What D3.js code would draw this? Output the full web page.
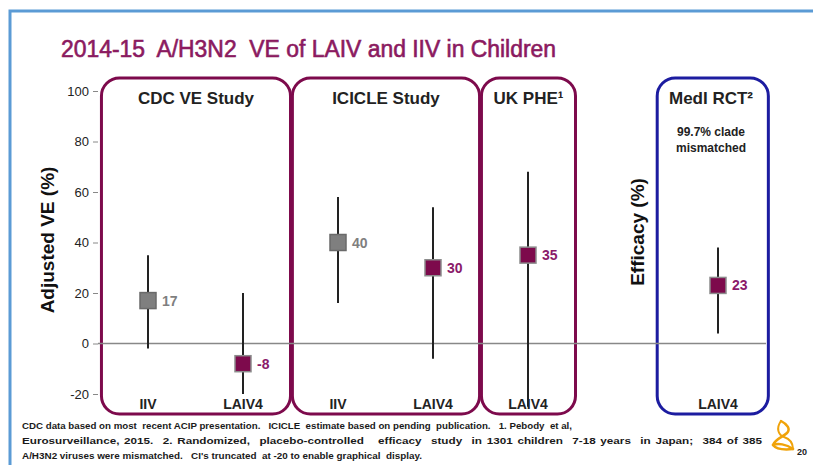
<!DOCTYPE html>
<html lang="en">
<head>
<meta charset="UTF-8">
<title>2014-15 A/H3N2 VE of LAIV and IIV in Children</title>
<style>
    body { margin: 0; background: #fff; }
    svg { display: block; font-family: Arial, "Liberation Sans", sans-serif; }
</style>
</head>
<body>
<svg id="chart" width="814" height="465"></svg>
<script src="https://cdnjs.cloudflare.com/ajax/libs/d3/7.8.5/d3.min.js"></script>
<script>
// data
var studies   = ["CDC VE Study", "ICICLE Study", "UK PHE\u00b9", "MedI RCT\u00b2"];
var vaccines  = ["IIV", "LAIV4", "IIV", "LAIV4", "LAIV4", "LAIV4"];
var studyOf   = [0, 0, 1, 1, 2, 3];
var slots     = [0, 1, 2, 3, 4, 6];
var estimates = [17, -8, 40, 30, 35, 23];
var ciLow     = [-2, -20, 16, -6, -25, 4];
var ciHigh    = [35, 20, 58, 54, 68, 38];
var yTicks    = [-20, 0, 20, 40, 60, 80, 100];
var footnotes = [
    "CDC data based on most  recent ACIP presentation.   ICICLE  estimate based on pending  publication.   1. Pebody  et al,",
    "Eurosurveillance, 2015.  2. Randomized,  placebo-controlled   efficacy  study  in 1301 children  7-18 years  in Japan;  384 of 385",
    "A/H3N2 viruses were mismatched.   CI's truncated  at -20 to enable graphical  display."
];

var maroon = "#7d0a4c", grey = "#7f7f7f";

var points = estimates.map(function(v, i) {
    return {v: v, lo: ciLow[i], hi: ciHigh[i], slot: slots[i], vac: vaccines[i], study: studyOf[i]};
});

var svg = d3.select("#chart");

var x = d3.scaleLinear().domain([0, 6]).range([148, 718]);
var y = d3.scaleLinear().domain([-20, 100]).range([394, 91]);

// outer slide frame
svg.append("path")
    .attr("d", "M813,11H10V466")
    .attr("fill", "none")
    .attr("stroke", "#5b9bd5")
    .attr("stroke-width", 3);

svg.append("text")
    .attr("x", 61).attr("y", 57)
    .attr("font-size", 23)
    .attr("fill", "#8b1a60")
    .attr("stroke", "#8b1a60").attr("stroke-width", 0.6)
    .attr("textLength", 495)
    .attr("lengthAdjust", "spacingAndGlyphs")
    .style("white-space", "pre")
    .text("2014-15  A/H3N2  VE of LAIV and IIV in Children");

// study boxes (slot spans)
var boxSpan = [[-0.49, 1.5], [1.52, 3.49], [3.51, 4.5], [5.36, 6.53]];
var boxes = svg.append("g").selectAll("g")
    .data(studies).enter().append("g");

boxes.append("rect")
    .attr("x", function(d, i) { return x(boxSpan[i][0]); })
    .attr("width", function(d, i) { return x(boxSpan[i][1]) - x(boxSpan[i][0]); })
    .attr("y", 78).attr("height", 336)
    .attr("rx", 18)
    .attr("fill", "none")
    .attr("stroke", function(d, i) { return i == 3 ? "#1c1ca0" : maroon; })
    .attr("stroke-width", 3);

boxes.append("text")
    .attr("x", function(d, i) { return i == 3 ? 711 : (x(boxSpan[i][0]) + x(boxSpan[i][1])) / 2; })
    .attr("y", 104)
    .attr("text-anchor", "middle")
    .attr("font-size", 17)
    .attr("font-weight", "bold")
    .attr("fill", "#222")
    .text(function(d) { return d; });

svg.append("text")
    .attr("text-anchor", "middle")
    .attr("font-size", 12)
    .attr("font-weight", "bold")
    .attr("fill", "#222")
    .selectAll("tspan")
    .data(["99.7% clade", "mismatched"]).enter().append("tspan")
    .attr("x", 711)
    .attr("y", function(d, i) { return 136 + i * 16; })
    .text(function(d) { return d; });

// y axis
var yAxis = svg.append("g")
    .attr("transform", "translate(98,0)")
    .call(d3.axisLeft(y).tickValues(yTicks).tickSize(5).tickPadding(4)
        .tickFormat(function(d) { return String(d); }));
yAxis.select(".domain").remove();
yAxis.selectAll("line").attr("stroke", "#888");
yAxis.selectAll("text").attr("font-size", 13).attr("font-family", "Arial, 'Liberation Sans', sans-serif").attr("fill", "#222");

svg.append("line")
    .attr("x1", 98).attr("x2", 766)
    .attr("y1", y(0)).attr("y2", y(0))
    .attr("stroke", "#888").attr("stroke-width", 1.5);

svg.append("text")
    .attr("transform", "translate(54,240) rotate(-90)")
    .attr("text-anchor", "middle")
    .attr("font-size", 19).attr("font-weight", "bold")
    .attr("fill", "#111")
    .text("Adjusted VE (%)");

svg.append("text")
    .attr("transform", "translate(644,232) rotate(-90)")
    .attr("text-anchor", "middle")
    .attr("font-size", 19).attr("font-weight", "bold")
    .attr("fill", "#111")
    .text("Efficacy (%)");

// estimates with CIs
var pts = svg.append("g").selectAll("g")
    .data(points).enter().append("g");

pts.append("line")
    .attr("x1", function(d) { return x(d.slot); })
    .attr("x2", function(d) { return x(d.slot); })
    .attr("y1", function(d) { return y(d.hi); })
    .attr("y2", function(d) { return y(d.lo); })
    .attr("stroke", "#222").attr("stroke-width", 2);

pts.append("rect")
    .attr("x", function(d) { return x(d.slot) - 8; })
    .attr("y", function(d) { return y(d.v) - 8; })
    .attr("width", 16).attr("height", 16)
    .attr("fill", function(d) { return d.vac == "IIV" ? grey : maroon; })
    .attr("stroke", function(d) { return d.vac == "IIV" ? "#6a6a6a" : "#8c8c8c"; })
    .attr("stroke-width", 1.5);

pts.append("text")
    .attr("x", function(d) { return x(d.slot) + 14; })
    .attr("y", function(d) { return y(d.v) + 5; })
    .attr("font-size", 14).attr("font-weight", "bold")
    .attr("fill", function(d) { return d.vac == "IIV" ? grey : "#8b1a6a"; })
    .text(function(d) { return d.v; });

pts.append("text")
    .attr("x", function(d) { return x(d.slot); })
    .attr("y", 409)
    .attr("text-anchor", "middle")
    .attr("font-size", 14).attr("font-weight", "bold")
    .attr("fill", "#222")
    .text(function(d) { return d.vac; });

// footnotes: line 2 is spread out with wider word gaps
var noteWidths = [550, 740, 400];
var noteWordGap = [0, 1.2, 0];
svg.append("g").selectAll("text")
    .data(footnotes).enter().append("text")
    .attr("x", 22)
    .attr("y", function(d, i) { return 429 + i * 15; })
    .attr("font-size", 9.5).attr("font-weight", "bold")
    .attr("fill", "#1a1a1a")
    .attr("word-spacing", function(d, i) { return noteWordGap[i]; })
    .attr("textLength", function(d, i) { return noteWidths[i]; })
    .attr("lengthAdjust", "spacingAndGlyphs")
    .style("white-space", "pre")
    .text(function(d) { return d; });

// logo and page number
var logo = svg.append("g").attr("transform", "translate(784,436)")
    .attr("fill", "none").attr("stroke", "#f0a30a").attr("stroke-width", 2.5)
    .attr("stroke-linecap", "round").attr("stroke-linejoin", "round");
logo.append("path").attr("d", "M-3,-15 C3,-12 7,-7 3,-3 C-1,1 -9,3 -11,9 C-6,7 2,8 9,13");
logo.append("path").attr("d", "M-3,-15 C-8,-8 -6,-1 0,1 C6,3 9,7 9,13").attr("stroke-width", 2);
logo.append("path").attr("d", "M-11,9 C-8,13 0,14 9,13").attr("stroke-width", 2.5);
svg.append("text")
    .attr("x", 797).attr("y", 455)
    .attr("font-size", 9).attr("font-weight", "bold")
    .attr("fill", "#222")
    .text("20");
</script>
</body>
</html>
